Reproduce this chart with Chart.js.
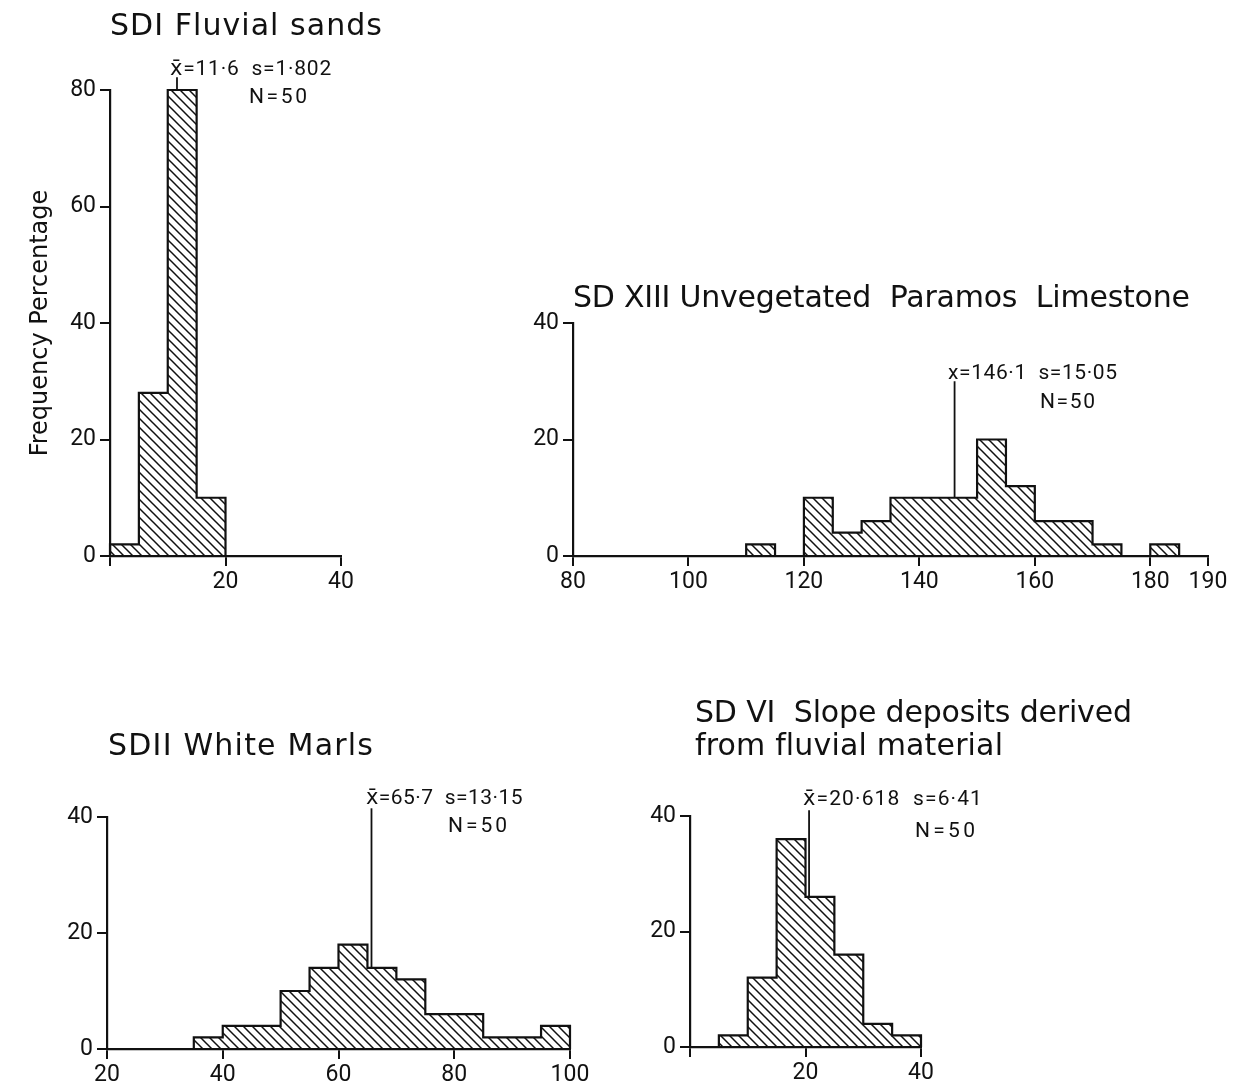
<!DOCTYPE html>
<html>
<head>
<meta charset="utf-8">
<script src="https://cdn.jsdelivr.net/npm/chart.js"></script>
<style>
  body { margin: 0; background: #fff; }
  #page { position: relative; width: 1255px; height: 1084px; overflow: hidden; background: #fff; }
  #page canvas { position: absolute; left: 0; top: 0; }
  .lbl { position: absolute; white-space: pre; color: #111; line-height: 1; }
</style>
</head>
<body>
<div id="page">
  <canvas id="sd1" width="1255" height="1084"></canvas>
  <canvas id="sd13" width="1255" height="1084"></canvas>
  <canvas id="sd2" width="1255" height="1084"></canvas>
  <canvas id="sd6" width="1255" height="1084"></canvas>
</div>
<script>
// class edges (5 unit classes) and frequency percentages
const sd1Edges = [0, 5, 10, 15, 20];
const sd1Freq = [2, 28, 80, 10];
const sd1Mean = 11.6;

const sd13Edges = [110, 115, 120, 125, 130, 135, 140, 145, 150, 155, 160, 165, 170, 175, 180, 185];
const sd13Freq = [2, 0, 10, 4, 6, 10, 10, 10, 20, 12, 6, 6, 2, 0, 2];
const sd13Mean = 146.1;

const sd2Edges = [35, 40, 45, 50, 55, 60, 65, 70, 75, 80, 85, 90, 95, 100];
const sd2Freq = [2, 4, 4, 10, 14, 18, 14, 12, 6, 6, 2, 2, 4];
const sd2Mean = 65.7;

const sd6Edges = [5, 10, 15, 20, 25, 30, 35, 40];
const sd6Freq = [2, 12, 36, 26, 16, 4, 2];
const sd6Mean = 20.618;

// tick labels
const sd1XTicks = [0, 20, 40];
const sd1YTicks = [0, 20, 40, 60, 80];
const sd13XTicks = [80, 100, 120, 140, 160, 180, 190];
const sd2XTicks = [20, 40, 60, 80, 100];
const sd6XTicks = [0, 20, 40];
const smallYTicks = [0, 20, 40];

const ink = '#111';
const font = '"DejaVu Sans", sans-serif';
const numFont = 'Roboto, "DejaVu Sans", sans-serif';

function hatch() {
  const s = 9;
  const c = document.createElement('canvas');
  c.width = s; c.height = s;
  const g = c.getContext('2d');
  g.strokeStyle = ink;
  g.lineWidth = 1.5;
  g.beginPath();
  g.moveTo(0, 0); g.lineTo(s, s);
  g.moveTo(-2, s - 2); g.lineTo(2, s + 2);
  g.moveTo(s - 2, -2); g.lineTo(s + 2, 2);
  g.stroke();
  return g.createPattern(c, 'repeat');
}

// step outline of the histogram: up at the first edge, down at the last
function steps(edges, freq) {
  const pts = [{x: edges[0], y: 0}];
  freq.forEach((f, i) => pts.push({x: edges[i], y: f}));
  pts.push({x: edges[edges.length - 1], y: 0});
  return pts;
}

function heightAt(edges, freq, v) {
  for (let i = 0; i < freq.length; i++) {
    if (v >= edges[i] && v < edges[i + 1]) return freq[i];
  }
  return 0;
}

function histogram(id, c) {
  new Chart(document.getElementById(id), {
    type: 'line',
    data: {
      datasets: [
        {
          data: steps(c.edges, c.freq),
          stepped: true,
          fill: 'origin',
          backgroundColor: hatch(),
          borderColor: ink,
          borderWidth: 2.2,
          pointRadius: 0,
          clip: false
        },
        {
          data: [{x: c.mean, y: heightAt(c.edges, c.freq, c.mean)}, {x: c.mean, y: c.meanTop}],
          borderColor: ink,
          borderWidth: 1.8,
          pointRadius: 0,
          fill: false,
          clip: false
        }
      ]
    },
    options: {
      responsive: false,
      animation: false,
      devicePixelRatio: 1,
      layout: {padding: c.pad},
      plugins: {legend: {display: false}, tooltip: {enabled: false}},
      scales: {
        x: {
          type: 'linear',
          min: c.xTicks[0],
          max: c.xTicks[c.xTicks.length - 1],
          afterBuildTicks: s => { s.ticks = c.xTicks.map(v => ({value: v})); },
          afterFit: s => { s.height = 32; },
          grid: {drawOnChartArea: false, tickLength: 10, color: ink, lineWidth: 2},
          border: {color: ink, width: 2.2},
          ticks: {
            color: ink,
            font: {family: numFont, size: 23},
            padding: 2,
            maxRotation: 0,
            callback: v => (c.hideX && v === c.xTicks[0]) ? '' : v
          }
        },
        y: {
          min: 0,
          max: c.yTicks[c.yTicks.length - 1],
          afterBuildTicks: s => { s.ticks = c.yTicks.map(v => ({value: v})); },
          afterFit: s => { s.width = c.yWidth; },
          grid: {drawOnChartArea: false, tickLength: 10, color: ink, lineWidth: 2},
          border: {color: ink, width: 2.2},
          ticks: {color: ink, font: {family: numFont, size: 23}, padding: 4},
          title: {
            display: !!c.yTitle,
            text: c.yTitle || '',
            color: ink,
            font: {family: font, size: 24}
          }
        }
      }
    }
  });
}

histogram('sd1', {
  edges: sd1Edges, freq: sd1Freq, mean: sd1Mean, meanTop: 82.2,
  xTicks: sd1XTicks, yTicks: sd1YTicks, hideX: true,
  yWidth: 88, yTitle: 'Frequency Percentage',
  pad: {left: 22, right: 914, top: 90, bottom: 496}
});
histogram('sd13', {
  edges: sd13Edges, freq: sd13Freq, mean: sd13Mean, meanTop: 30,
  xTicks: sd13XTicks, yTicks: smallYTicks,
  yWidth: 60,
  pad: {left: 513, right: 47, top: 323, bottom: 496}
});
histogram('sd2', {
  edges: sd2Edges, freq: sd2Freq, mean: sd2Mean, meanTop: 41.5,
  xTicks: sd2XTicks, yTicks: smallYTicks,
  yWidth: 60,
  pad: {left: 47, right: 685, top: 817, bottom: 3}
});
histogram('sd6', {
  edges: sd6Edges, freq: sd6Freq, mean: sd6Mean, meanTop: 41,
  xTicks: sd6XTicks, yTicks: smallYTicks, hideX: true,
  yWidth: 60,
  pad: {left: 630, right: 334, top: 816, bottom: 5}
});

// titles and statistics: [text, left, baseline, size, width, font]
const notes = [
  ['SDI Fluvial sands', 110, 35, 30, 272, font],
  ['x\u0304=11\u00b76  s=1\u00b7802', 170, 75, 21, 162, numFont],
  ['N=50', 249, 103, 21, 58, numFont],
  ['SD XIII Unvegetated  Paramos  Limestone', 573, 307, 30, 617, font],
  ['x=146\u00b71  s=15\u00b705', 948, 379, 21, 169, numFont],
  ['N=50', 1040, 408, 21, 55, numFont],
  ['SDII White Marls', 108, 755, 30, 265, font],
  ['x\u0304=65\u00b77  s=13\u00b715', 366, 804, 21, 157, numFont],
  ['N=50', 448, 832, 21, 59, numFont],
  ['SD VI  Slope deposits derived', 695, 722, 30, 437, font],
  ['from fluvial material', 695, 755, 30, 308, font],
  ['x\u0304=20\u00b7618  s=6\u00b741', 803, 805, 21, 180, numFont],
  ['N=50', 915, 837, 21, 60, numFont]
];
const page = document.getElementById('page');
notes.forEach(([t, x, base, size, w, fam]) => {
  const d = document.createElement('div');
  d.className = 'lbl';
  d.textContent = t;
  d.style.fontFamily = fam;
  d.style.fontSize = size + 'px';
  d.style.left = x + 'px';
  page.appendChild(d);
  // put the baseline where the reference has it
  const probe = document.createElement('span');
  probe.style.display = 'inline-block';
  probe.style.height = '0px';
  d.appendChild(probe);
  const baseOff = probe.getBoundingClientRect().top - d.getBoundingClientRect().top;
  d.removeChild(probe);
  d.style.top = (base - baseOff) + 'px';
  const n = [...t].length;
  const natural = d.getBoundingClientRect().width;
  d.style.letterSpacing = ((w - natural) / (n - 1)) + 'px';
});
</script>
</body>
</html>
